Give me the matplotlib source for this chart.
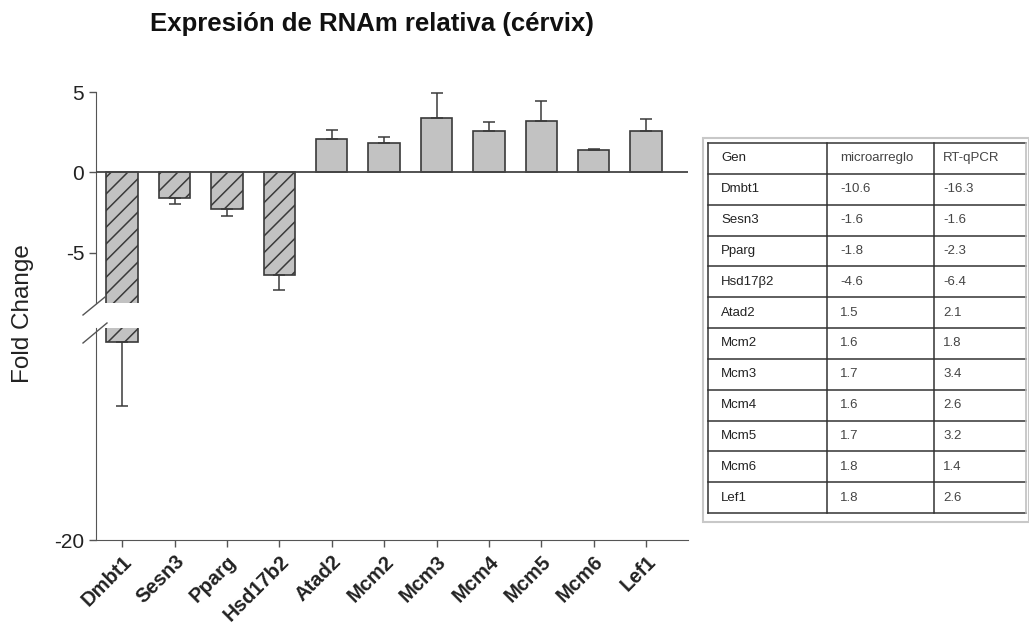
import matplotlib
matplotlib.use('Agg')
import matplotlib.pyplot as plt
import numpy as np
from matplotlib.lines import Line2D
from matplotlib.patches import Rectangle

plt.rcParams['font.family'] = ['Liberation Sans', 'DejaVu Sans']
plt.rcParams['hatch.linewidth'] = 1.1

# data
genes = ['Dmbt1', 'Sesn3', 'Pparg', 'Hsd17b2', 'Atad2', 'Mcm2', 'Mcm3', 'Mcm4', 'Mcm5', 'Mcm6', 'Lef1']
fold = [-16.3, -1.6, -2.3, -6.4, 2.1, 1.8, 3.4, 2.6, 3.2, 1.4, 2.6]
err = [1.2, 0.4, 0.43, 0.93, 0.52, 0.4, 1.53, 0.52, 1.24, 0.05, 0.7]

tab_genes = ['Dmbt1', 'Sesn3', 'Pparg', 'Hsd17\u03b22', 'Atad2', 'Mcm2', 'Mcm3', 'Mcm4', 'Mcm5', 'Mcm6', 'Lef1']
tab_micro = ['-10.6', '-1.6', '-1.8', '-4.6', '1.5', '1.6', '1.7', '1.6', '1.7', '1.8', '1.8']
tab_qpcr = ['-16.3', '-1.6', '-2.3', '-6.4', '2.1', '1.8', '3.4', '2.6', '3.2', '1.4', '2.6']

W, H = 1029, 640
fig = plt.figure(figsize=(W / 100, H / 100), dpi=100)

def box(x0, y0, x1, y1):
    # pixel box (top-left origin) -> figure fraction rect
    return [x0 / W, 1 - y1 / H, (x1 - x0) / W, (y1 - y0) / H]

ax_top = fig.add_axes(box(96, 92, 688, 303))
ax_bot = fig.add_axes(box(96, 328, 688, 540))

x = np.arange(len(genes))
vals = np.array(fold)
e = np.array(err)
lower = np.where(vals < 0, e, 0)
upper = np.where(vals > 0, e, 0)
hatches = ['//' if v < 0 else '' for v in vals]
edge = '#3a3a3a'

for ax in (ax_top, ax_bot):
    bars = ax.bar(x, vals, width=0.6, color='#c2c2c2', edgecolor=edge, linewidth=1.2, zorder=2)
    for b, h in zip(bars, hatches):
        b.set_hatch(h)
    ax.errorbar(x, vals, yerr=[lower, upper], fmt='none', ecolor=edge, elinewidth=1.1,
                capsize=4.5, capthick=1.1, zorder=3)
    ax.set_xlim(-0.5, 10.8)
    ax.spines['top'].set_visible(False)
    ax.spines['right'].set_visible(False)
    ax.spines['left'].set_color('#555555')
    ax.spines['bottom'].set_color('#555555')
    ax.tick_params(colors='#555555', labelcolor='#222222', labelsize=15, length=5, width=1)

ax_top.set_ylim(-8.14, 5)
ax_top.set_yticks([5, 0, -5])
ax_top.set_yticklabels(['5', '0', '-5'])
ax_top.spines['bottom'].set_visible(False)
ax_top.set_xticks([])
ax_top.axhline(0, color='#444444', linewidth=1.3, zorder=4)

ax_bot.set_ylim(-20, -16.04)
ax_bot.set_yticks([-20])
ax_bot.set_yticklabels(['-20'])
ax_bot.set_xticks(x)
ax_bot.set_xticklabels(genes, rotation=45, ha='right', rotation_mode='anchor',
                       fontsize=14.5, fontweight='bold')

# break marks on the y axis
for (x0, y0, x1, y1) in [(83, 315, 105, 297), (83, 343, 107, 323)]:
    fig.add_artist(Line2D([x0 / W, x1 / W], [1 - y0 / H, 1 - y1 / H], color='#555555',
                          linewidth=1, transform=fig.transFigure))

fig.text(372 / W, 1 - 24 / H, 'Expresi\u00f3n de RNAm relativa (c\u00e9rvix)', ha='center', va='center',
         fontsize=18.5, fontweight='bold', color='#111111')
fig.text(23 / W, 1 - 314 / H, 'Fold Change', rotation=90, ha='center', va='center',
         fontsize=17.5, color='#222222')

# table on the right
fig.add_artist(Rectangle((703 / W, 1 - 522 / H), (1029 - 703) / W, (522 - 138) / H,
                         transform=fig.transFigure, facecolor='white', edgecolor='#c8c8c8',
                         linewidth=1.5))
col_x = [708, 827, 934, 1026]
top, bot = 143, 513
nrows = len(tab_genes) + 1
row_h = (bot - top) / nrows
rows = [['Gen', 'microarreglo', 'RT-qPCR']] + [list(r) for r in zip(tab_genes, tab_micro, tab_qpcr)]
for i in range(nrows + 1):
    y = top + i * row_h
    fig.add_artist(Line2D([col_x[0] / W, col_x[-1] / W], [1 - y / H, 1 - y / H], color='#333333',
                          linewidth=1.1, transform=fig.transFigure))
for cx in col_x:
    c = '#bbbbbb' if cx == col_x[-1] else '#333333'
    fig.add_artist(Line2D([cx / W, cx / W], [1 - top / H, 1 - bot / H], color=c,
                          linewidth=1.1, transform=fig.transFigure))
pads = [13, 13, 9]
for i, r in enumerate(rows):
    yc = top + (i + 0.5) * row_h
    for j, t in enumerate(r):
        fig.text((col_x[j] + pads[j]) / W, 1 - yc / H, t, ha='left', va='center', fontsize=9.5,
                 color='#222222' if j == 0 else '#444444')

fig.savefig('out.png', dpi=100, facecolor='white')
